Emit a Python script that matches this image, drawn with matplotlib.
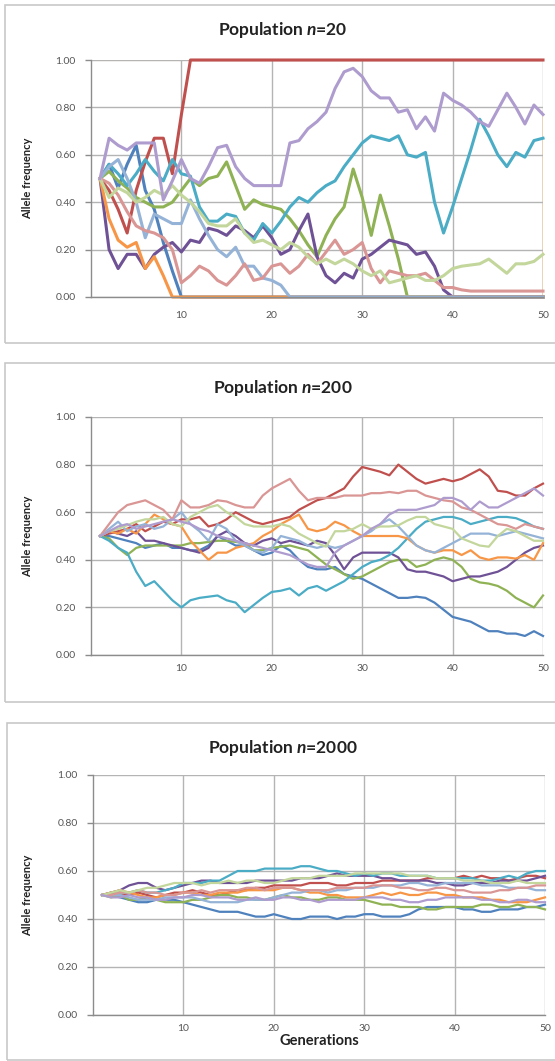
import matplotlib
matplotlib.use("Agg")
import matplotlib.pyplot as plt
from matplotlib.patches import Rectangle

plt.rcParams['font.family'] = ['Lato', 'DejaVu Sans']
plt.rcParams['mathtext.fontset'] = 'custom'
plt.rcParams['mathtext.it'] = 'Lato:italic:bold'
plt.rcParams['mathtext.rm'] = 'Lato:bold'

generations = list(range(1, 51))
series_colors = ['#4F81BD', '#C0504D', '#8FB254', '#6F5296', '#4BACC6',
                 '#F79646', '#95B3D7', '#D99694', '#C3D69B', '#AE9CCF']

# ---- population n=20 ----
p1_blue = [.50, .56, .46, .56, .64, .45, .37, .23, .11, 0] + [0] * 40
p1_red = [.50, .45, .37, .27, .45, .57, .67, .67, .52, .77] + [1.0] * 40
p1_green = [.50, .53, .49, .46, .42, .40, .38, .38, .40, .45,
            .50, .47, .50, .51, .57, .47, .37, .41, .39, .38,
            .37, .33, .28, .22, .17, .26, .33, .38, .54, .42,
            .26, .43, .30, .16, 0, 0, 0, 0, 0, 0,
            0, 0, 0, 0, 0, 0, 0, 0, 0, 0]
p1_purple = [.50, .20, .12, .18, .18, .12, .18, .21, .23, .19,
             .24, .23, .29, .28, .26, .30, .28, .25, .30, .25,
             .18, .20, .28, .35, .17, .09, .06, .10, .08, .16,
             .18, .21, .24, .23, .22, .18, .19, .13, .03, 0,
             0, 0, 0, 0, 0, 0, 0, 0, 0, 0]
p1_aqua = [.50, .56, .52, .47, .52, .58, .53, .49, .58, .52,
           .51, .38, .32, .32, .35, .34, .27, .24, .31, .27,
           .32, .38, .42, .40, .44, .47, .49, .55, .60, .65,
           .68, .67, .66, .68, .60, .59, .61, .40, .27, .38,
           .50, .62, .75, .68, .60, .55, .61, .59, .66, .67]
p1_orange = [.50, .33, .24, .21, .23, .12, .17, .09, 0, 0] + [0] * 40
p1_lblue = [.50, .55, .58, .50, .40, .25, .35, .33, .31, .31,
            .41, .33, .26, .20, .17, .21, .13, .13, .08, .07,
            .05, 0] + [0] * 28
p1_pink = [.50, .48, .43, .36, .30, .28, .27, .25, .20, .06,
           .09, .13, .11, .07, .05, .09, .14, .07, .08, .13,
           .14, .10, .13, .18, .14, .19, .24, .18, .20, .23,
           .12, .06, .11, .10, .09, .09, .10, .07, .04, .04,
           .03, .025, .025, .025, .025, .025, .025, .025, .025, .025]
p1_lgreen = [.50, .42, .46, .44, .40, .42, .45, .43, .47, .43,
             .40, .36, .31, .30, .30, .33, .27, .23, .24, .22,
             .20, .23, .21, .17, .14, .16, .14, .16, .14, .11,
             .09, .11, .06, .07, .08, .09, .07, .07, .09, .12,
             .13, .135, .14, .16, .13, .10, .14, .14, .15, .18]
p1_lpurple = [.50, .67, .64, .62, .65, .65, .65, .41, .49, .58,
              .50, .48, .55, .63, .64, .55, .50, .47, .47, .47,
              .47, .65, .66, .71, .74, .78, .88, .95, .965, .93,
              .87, .84, .84, .78, .79, .71, .76, .70, .86, .83,
              .81, .78, .74, .72, .79, .86, .80, .73, .81, .77]

# ---- population n=200 ----
p2_blue = [.50, .50, .49, .48, .47, .45, .46, .47, .45, .45,
           .44, .44, .46, .50, .48, .46, .46, .44, .42, .43,
           .46, .44, .40, .37, .36, .36, .37, .34, .33, .32,
           .30, .28, .26, .24, .24, .245, .24, .22, .19, .16,
           .15, .14, .12, .10, .10, .09, .09, .08, .10, .08]
p2_red = [.50, .51, .52, .53, .55, .52, .54, .56, .55, .57,
          .57, .58, .54, .55, .57, .60, .58, .56, .55, .56,
          .57, .58, .61, .63, .65, .66, .68, .70, .75, .79,
          .78, .77, .755, .80, .77, .74, .72, .73, .74, .73,
          .74, .76, .78, .75, .69, .685, .67, .67, .70, .72]
p2_green = [.50, .49, .45, .42, .45, .46, .46, .46, .46, .46,
            .47, .47, .475, .48, .48, .475, .47, .44, .44, .45,
            .455, .46, .45, .44, .41, .38, .36, .34, .32, .33,
            .35, .37, .39, .40, .40, .37, .38, .40, .41, .40,
            .37, .32, .305, .30, .29, .27, .24, .22, .20, .25]
p2_purple = [.50, .52, .51, .50, .52, .48, .48, .47, .46, .45,
             .44, .43, .45, .50, .52, .50, .47, .46, .48, .49,
             .47, .48, .47, .46, .48, .47, .42, .36, .41, .43,
             .43, .43, .43, .41, .36, .35, .35, .34, .33, .31,
             .32, .33, .33, .34, .35, .37, .40, .43, .45, .46]
p2_aqua = [.50, .48, .45, .43, .35, .29, .31, .27, .23, .20,
           .23, .24, .245, .25, .23, .22, .18, .21, .24, .265,
           .27, .28, .25, .28, .29, .27, .29, .31, .34, .37,
           .39, .40, .42, .45, .49, .53, .56, .57, .58, .58,
           .57, .55, .56, .57, .58, .58, .575, .56, .54, .53]
p2_orange = [.50, .52, .51, .53, .51, .55, .59, .57, .55, .54,
             .48, .44, .40, .43, .43, .45, .46, .47, .50, .52,
             .55, .57, .59, .53, .52, .53, .56, .545, .52, .50,
             .50, .50, .50, .50, .49, .46, .44, .43, .44, .44,
             .42, .44, .41, .40, .41, .41, .405, .42, .40, .47]
p2_lblue = [.50, .53, .56, .52, .54, .55, .53, .54, .57, .60,
            .55, .52, .48, .55, .53, .48, .46, .44, .43, .45,
            .50, .49, .48, .46, .45, .46, .45, .46, .48, .50,
            .52, .55, .57, .54, .50, .46, .44, .43, .45, .47,
            .49, .51, .51, .51, .50, .51, .52, .51, .50, .49]
p2_pink = [.50, .55, .60, .63, .64, .65, .63, .61, .57, .65,
           .62, .62, .63, .65, .645, .63, .62, .62, .67, .70,
           .72, .74, .69, .65, .66, .66, .66, .67, .67, .67,
           .68, .68, .685, .68, .69, .69, .67, .66, .65, .645,
           .62, .61, .59, .57, .55, .545, .53, .55, .54, .53]
p2_lgreen = [.50, .52, .53, .545, .56, .57, .57, .58, .55, .54,
             .58, .60, .62, .63, .60, .58, .55, .54, .54, .54,
             .55, .54, .51, .49, .47, .455, .52, .52, .53, .55,
             .53, .54, .54, .545, .565, .58, .58, .55, .54, .53,
             .49, .475, .46, .455, .50, .53, .52, .50, .48, .48]
p2_lpurple = [.50, .52, .54, .55, .53, .54, .55, .56, .57, .56,
              .55, .53, .52, .50, .49, .48, .47, .46, .45, .44,
              .43, .42, .40, .38, .37, .37, .43, .46, .48, .50,
              .53, .55, .59, .61, .61, .61, .62, .63, .66, .66,
              .645, .61, .645, .62, .62, .64, .66, .68, .70, .67]

# ---- population n=2000 ----
p3_blue = [.50, .50, .49, .48, .47, .47, .48, .48, .48, .47,
           .46, .45, .44, .43, .43, .43, .42, .41, .41, .42,
           .41, .40, .40, .41, .41, .41, .40, .41, .41, .42,
           .42, .41, .41, .41, .42, .44, .45, .45, .45, .45,
           .44, .44, .43, .43, .44, .44, .44, .45, .45, .46]
p3_red = [.50, .51, .50, .50, .51, .50, .49, .50, .51, .51,
          .52, .51, .50, .50, .51, .52, .52, .53, .53, .54,
          .54, .54, .54, .55, .55, .55, .54, .54, .55, .55,
          .55, .56, .56, .56, .56, .56, .57, .57, .57, .57,
          .58, .57, .58, .57, .57, .56, .57, .58, .58, .57]
p3_green = [.50, .49, .50, .48, .48, .49, .48, .47, .47, .47,
            .48, .48, .49, .50, .50, .49, .49, .48, .48, .49,
            .50, .49, .49, .48, .48, .49, .49, .48, .48, .48,
            .47, .46, .46, .45, .45, .45, .44, .44, .45, .45,
            .45, .45, .46, .46, .45, .45, .46, .45, .45, .44]
p3_purple = [.50, .51, .52, .54, .55, .55, .53, .52, .53, .54,
             .55, .56, .56, .55, .55, .55, .55, .56, .56, .56,
             .56, .56, .57, .57, .57, .58, .59, .58, .58, .58,
             .58, .57, .57, .56, .56, .56, .56, .55, .55, .54,
             .54, .55, .55, .55, .56, .56, .56, .56, .57, .58]
p3_aqua = [.50, .50, .51, .51, .52, .51, .51, .52, .53, .55,
           .55, .55, .56, .56, .58, .60, .60, .60, .61, .61,
           .61, .61, .62, .62, .61, .60, .60, .59, .58, .59,
           .58, .59, .59, .58, .58, .58, .58, .57, .57, .57,
           .57, .57, .56, .56, .57, .58, .57, .59, .60, .60]
p3_orange = [.50, .51, .52, .51, .50, .49, .49, .50, .50, .51,
             .51, .50, .50, .51, .51, .51, .52, .52, .52, .52,
             .53, .53, .52, .51, .51, .50, .50, .49, .49, .49,
             .50, .51, .50, .51, .50, .50, .51, .51, .50, .50,
             .49, .49, .49, .48, .48, .47, .47, .47, .48, .49]
p3_lblue = [.50, .50, .50, .49, .48, .48, .48, .49, .49, .49,
            .49, .48, .47, .47, .47, .47, .48, .48, .48, .49,
            .50, .51, .51, .52, .52, .51, .52, .52, .53, .53,
            .53, .54, .54, .54, .55, .55, .54, .54, .55, .55,
            .55, .55, .54, .54, .54, .53, .53, .53, .52, .52]
p3_pink = [.50, .50, .51, .51, .52, .51, .51, .50, .50, .51,
           .51, .52, .51, .52, .52, .52, .53, .53, .52, .53,
           .53, .53, .52, .52, .52, .52, .53, .53, .53, .53,
           .54, .54, .54, .53, .53, .52, .52, .53, .53, .52,
           .52, .51, .51, .51, .52, .52, .53, .53, .54, .54]
p3_lgreen = [.50, .51, .52, .51, .52, .53, .53, .54, .55, .55,
             .55, .54, .55, .55, .56, .55, .56, .56, .55, .55,
             .56, .57, .57, .57, .58, .58, .58, .58, .59, .59,
             .59, .59, .59, .59, .58, .58, .58, .57, .57, .57,
             .56, .56, .56, .55, .55, .55, .56, .55, .55, .55]
p3_lpurple = [.50, .49, .49, .50, .49, .49, .48, .48, .49, .49,
              .50, .50, .49, .49, .49, .48, .48, .49, .48, .48,
              .49, .49, .48, .48, .47, .48, .48, .48, .48, .49,
              .49, .49, .48, .48, .47, .47, .48, .48, .49, .49,
              .49, .49, .48, .48, .47, .47, .48, .48, .47, .47]

panels = [
    ("Population $n$=20",
     [p1_blue, p1_red, p1_green, p1_purple, p1_aqua, p1_orange,
      p1_lblue, p1_pink, p1_lgreen, p1_lpurple], 2.2),
    ("Population $n$=200",
     [p2_blue, p2_red, p2_green, p2_purple, p2_aqua, p2_orange,
      p2_lblue, p2_pink, p2_lgreen, p2_lpurple], 1.6),
    ("Population $n$=2000",
     [p3_blue, p3_red, p3_green, p3_purple, p3_aqua, p3_orange,
      p3_lblue, p3_pink, p3_lgreen, p3_lpurple], 1.6),
]

W, H = 555, 1061
fig = plt.figure(figsize=(W / 100, H / 100), dpi=100)

# chart boxes (pixel coords: left, top, bottom)
boxes = [(5, 5, 343), (5, 363, 702), (7, 723, 1060)]
for left, top, bottom in boxes:
    fig.patches.append(Rectangle((left / W, 1 - bottom / H), (W + 10 - left) / W,
                                 (bottom - top) / H, transform=fig.transFigure,
                                 fill=False, edgecolor='#C8C8C8', linewidth=1.2))

# plot areas (pixel coords: left, right, top, bottom)
areas = [(91, 543, 60, 297), (91, 543, 417, 655), (93, 545, 775, 1015)]
title_y = [30, 388, 748]
xpad = [10, 6.5, 6.5]

for i, ((title, series, lw), (l, r, t, b)) in enumerate(zip(panels, areas)):
    ax = fig.add_axes([l / W, 1 - b / H, (r - l) / W, (b - t) / H])
    for vals, col in zip(series, series_colors):
        ax.plot(generations, vals, color=col, linewidth=lw, clip_on=False,
                solid_joinstyle='round')
    ax.set_xlim(0, 50)
    ax.set_ylim(0, 1)
    ax.set_xticks([10, 20, 30, 40, 50])
    ax.set_yticks([0, 0.2, 0.4, 0.6, 0.8, 1.0])
    ax.set_yticklabels(['0.00', '0.20', '0.40', '0.60', '0.80', '1.00'])
    ax.grid(True, color='#B4B4B4', linewidth=1.0)
    ax.set_axisbelow(True)
    for s in ['top', 'right']:
        ax.spines[s].set_visible(False)
    for s in ['left', 'bottom']:
        ax.spines[s].set_color('#8C8C8C')
        ax.spines[s].set_linewidth(1.0)
    ax.tick_params(axis='both', labelsize=7.5, colors='#8C8C8C', labelcolor='#555555',
                   length=4, width=1, pad=7)
    ax.tick_params(axis='x', length=0, pad=xpad[i])
    ax.set_ylabel('Allele frequency', fontsize=8, fontweight='bold', color='#222222')
    ax.yaxis.set_label_coords((33 - l) / (r - l), 0.5)
    if i == 0:
        # light border line seen on the first chart's plot area
        ax.axhline(1.0, 0, 0.2, color='#FBE3A6', linewidth=1.5, zorder=0)
        ax.axvline(50, 0, 0.78, color='#F5D7A8', linewidth=1.2, zorder=0)
    fig.text(283 / W, 1 - title_y[i] / H, title, ha='center', va='center',
             fontsize=12.5, fontweight='bold', color='#222222')
    if i == 2:
        ax.set_xlabel('Generations', fontsize=10.5, fontweight='bold', color='#222222',
                      labelpad=1)

fig.savefig('out.png', dpi=100)
